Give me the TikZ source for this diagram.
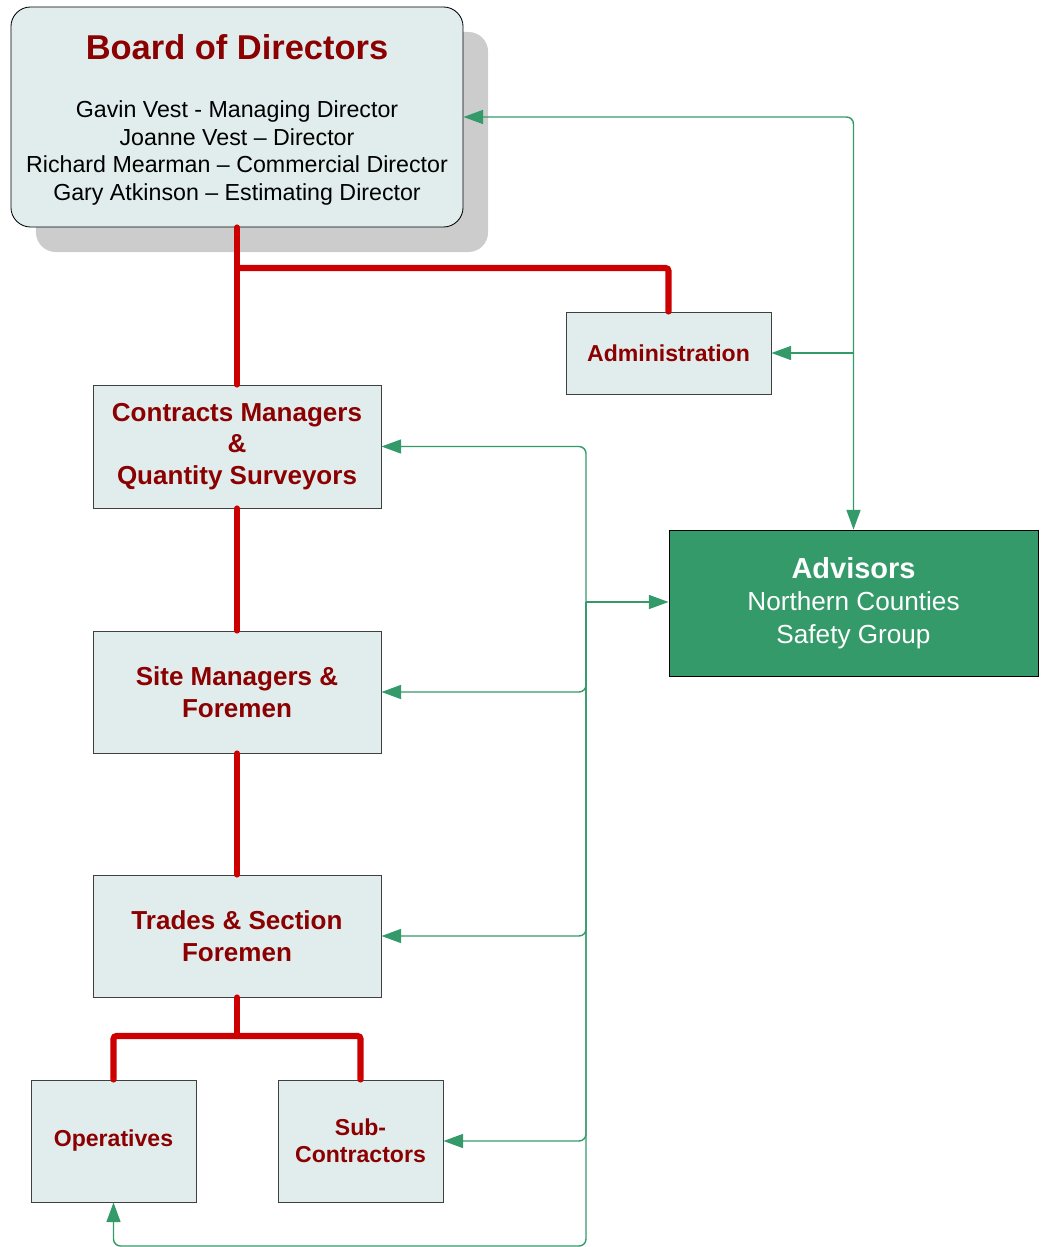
\documentclass[tikz,border=0pt]{standalone}
\usepackage{fontspec}
\setmainfont{Liberation Sans}
\usetikzlibrary{arrows.meta,shadows}
\definecolor{boxfill}{RGB}{225,237,237}
\definecolor{boxedge}{RGB}{64,64,64}
\definecolor{labelred}{RGB}{139,0,0}
\definecolor{linkred}{RGB}{204,0,0}
\definecolor{advgreen}{RGB}{52,154,106}
\definecolor{shadowgrey}{RGB}{204,204,204}
\begin{document}
\begin{tikzpicture}[x=0.025cm, y=-0.025cm,
	unit/.style={rectangle, draw=boxedge, line width=0.6pt, fill=boxfill, align=center, text=labelred, font=\bfseries\fontsize{18.5}{22.4}\selectfont},
	smallunit/.style={unit, font=\bfseries\fontsize{16.4}{19.3}\selectfont},
	redline/.style={draw=linkred, line width=4.3pt, line cap=round, rounded corners=2pt},
	grnline/.style={draw=advgreen, line width=1pt, rounded corners=5pt, -{Triangle[length=14pt,width=10pt]}}]
		\useasboundingbox (0,0) rectangle (1045,1247);
		\node[rectangle, rounded corners=14pt, draw=black, line width=0.6pt, fill=boxfill, minimum width=11.3cm, minimum height=5.5cm, align=center,
			drop shadow={shadow xshift=0.625cm, shadow yshift=-0.625cm, fill=shadowgrey, opacity=1},
			font=\fontsize{16.5}{19.7}\selectfont] (board) at (237,117)
			{\rule{0pt}{22pt}{\color{labelred}\bfseries\fontsize{24.5}{29}\selectfont Board of Directors}\\[21.4pt]
			Gavin Vest - Managing Director\\
			Joanne Vest -- Director\\
			Richard Mearman -- Commercial Director\\
			Gary Atkinson -- Estimating Director};
		\node[smallunit, minimum width=5.125cm, minimum height=2.05cm] (admin) at (668.5,353) {Administration};
		\node[unit, minimum width=7.2cm, minimum height=3.075cm] (cqs) at (237,446.5) {Contracts Managers\\\&\\Quantity Surveyors};
		\node[unit, minimum width=7.2cm, minimum height=3.05cm] (site) at (237,692) {Site Managers \&\\Foremen};
		\node[unit, minimum width=7.2cm, minimum height=3.05cm] (trades) at (237,936) {Trades \& Section\\Foremen};
		\node[smallunit, minimum width=4.125cm, minimum height=3.05cm] (ops) at (113.5,1141) {Operatives};
		\node[smallunit, minimum width=4.125cm, minimum height=3.05cm] (sub) at (360.5,1141) {Sub-\\Contractors};
		\node[rectangle, draw=black, line width=0.6pt, fill=advgreen, text=white, align=center, minimum width=9.225cm, minimum height=3.65cm,
			font=\fontsize{18.6}{23}\selectfont] (adv) at (853.5,603)
			{{\bfseries\fontsize{20.6}{23}\selectfont Advisors}\\Northern Counties\\Safety Group};
		\coordinate (split) at (237,268);
		\coordinate (tsplit) at (237,1036);
		\coordinate (bus) at (586,602);
		\coordinate (busend) at (586,1246);
		\draw[redline] (board.south) -- (cqs.north);
		\draw[redline] (split) -| (admin.north);
		\draw[redline] (cqs.south) -- (site.north);
		\draw[redline] (site.south) -- (trades.north);
		\draw[redline] (trades.south) -- (tsplit);
		\draw[redline] (ops.north) |- (tsplit) -| (sub.north);
		\draw[grnline, {Triangle[length=14pt,width=10pt]}-{Triangle[length=14pt,width=10pt]}] (board.east) -| (adv.north);
		\draw[grnline] (adv.north |- admin.east) -- (admin.east);
		\draw[grnline] (bus) -- (adv.west |- bus);
		\draw[grnline] (bus) |- (cqs.east);
		\draw[grnline] (bus) |- (site.east);
		\draw[grnline] (bus) |- (trades.east);
		\draw[grnline] (bus) |- (sub.east);
		\draw[grnline] (bus) -- (busend) -| (ops.south);
	\end{tikzpicture}
\end{document}
